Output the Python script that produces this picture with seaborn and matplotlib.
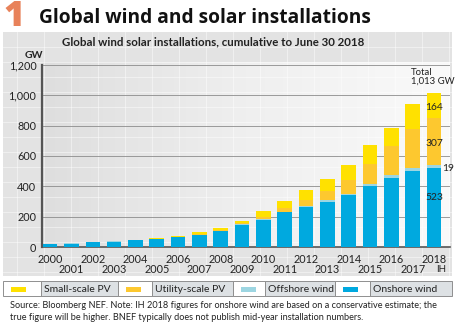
import numpy as np
import pandas as pd
import matplotlib
matplotlib.use("Agg")
import matplotlib.pyplot as plt
import seaborn as sns
from matplotlib.patches import Rectangle
from matplotlib.colors import LinearSegmentedColormap

# ---------------- data ----------------
years = [str(y) for y in range(2000, 2019)]
onshore = [17, 23, 30, 36, 44, 50, 63, 80, 105, 148, 180, 229, 266, 300, 340, 404, 458, 503, 523]
offshore = [0, 0.5, 0.5, 0.5, 0.5, 1, 1, 1, 1.5, 2, 3, 4, 6, 8, 10, 12, 14, 18, 19]
utility = [0, 0, 0, 0, 0, 1, 2, 3, 6, 8, 13, 25, 39, 61, 94, 131, 195, 260, 307]
small = [0, 0, 0, 0, 1, 5, 6, 12, 15, 13, 39, 43, 65, 79, 97, 123, 120, 160, 164]
series_names = ["Small-scale PV", "Utility-scale PV", "Offshore wind", "Onshore wind"]
colors = {"Small-scale PV": "#ffe100", "Utility-scale PV": "#fdc82f",
          "Offshore wind": "#9dd6e2", "Onshore wind": "#00a9df"}
ytick_vals = [0, 200, 400, 600, 800, 1000, 1200]

df = pd.DataFrame({"year": years, "onshore": onshore, "offshore": offshore,
                   "utility": utility, "small": small})
df["c_on"] = df["onshore"]
df["c_off"] = df["c_on"] + df["offshore"]
df["c_util"] = df["c_off"] + df["utility"]
df["c_small"] = df["c_util"] + df["small"]

sns.set_theme(style="white")
plt.rcParams["font.family"] = ["Lato", "DejaVu Sans"]

W, H = 457, 325
fig = plt.figure(figsize=(W / 100, H / 100), dpi=100)
fig.patch.set_facecolor("white")

# background / decoration axes in pixel coordinates
bg = fig.add_axes([0, 0, 1, 1], zorder=0)
bg.axis("off")

bg.add_patch(Rectangle((3, 32), 449, 244, facecolor="#e3e3e3", edgecolor="none"))
grad = np.linspace(0, 1, 256).reshape(1, -1)
cmap = LinearSegmentedColormap.from_list("g", ["#dedede", "#efefef", "#fafafa"])
bg.imshow(grad, extent=(42, 450, 247, 62), cmap=cmap, aspect="auto", zorder=1)
for x in np.arange(17, 452, 27):
    bg.plot([x, x], [32, 276], color="white", lw=0.8, alpha=0.45, zorder=2)
for y in np.arange(47, 276, 15):
    bg.plot([3, 452], [y, y], color="white", lw=0.8, alpha=0.45, zorder=2)
bg.set_xlim(0, W)
bg.set_ylim(H, 0)

# titles
bg.text(3, 26, "1", color="#e8825a", fontsize=26, fontweight="heavy",
        family=["Open Sans", "DejaVu Sans"], va="baseline", ha="left")
bg.text(39, 23, "Global wind and solar installations", color="#111111", fontsize=13.75,
        fontweight="bold", family=["Open Sans", "DejaVu Sans"], va="baseline", ha="left")
bg.text(62, 45, "Global wind solar installations, cumulative to June 30 2018",
        fontsize=8.3, fontweight="bold", color="#222222", va="baseline", ha="left")
bg.text(25, 58, "GW", fontsize=7.5, fontweight="bold", color="#222222", va="baseline", ha="left")

# ---------------- main chart ----------------
ax = fig.add_axes([42 / W, 1 - 247 / H, 408 / W, 182 / H], zorder=3)
ax.set_facecolor("none")

layers = [("c_small", "Small-scale PV"), ("c_util", "Utility-scale PV"),
          ("c_off", "Offshore wind"), ("c_on", "Onshore wind")]
for col, name in layers:
    sns.barplot(data=df, x="year", y=col, color=colors[name], saturation=1,
                width=0.68, ax=ax, zorder=3, linewidth=0, edgecolor="none")

ax.set_ylim(0, 1200)
ax.set_xlim(-0.38, 18.75)
ax.set_yticks(ytick_vals)
ax.set_yticklabels([f"{v:,}" for v in ytick_vals], fontsize=7.8, color="#222222")
ax.set_xticks(range(len(years)))
ax.set_xticklabels([y if i % 2 == 0 else "" for i, y in enumerate(years)],
                   fontsize=7.8, color="#222222")
xt = ax.get_xaxis_transform()
for i, y in enumerate(years):
    if i % 2 == 1:
        ax.text(i, -0.125, y, transform=xt, ha="center", va="center",
                fontsize=7.8, color="#222222")
ax.text(18.35, -0.125, "IH", transform=xt, ha="center", va="center",
        fontsize=7.0, color="#222222")
ax.tick_params(axis="both", length=0)
ax.tick_params(axis="x", pad=5)
ax.tick_params(axis="y", pad=4)
ax.set_xlabel("")
ax.set_ylabel("")
ax.yaxis.grid(True, color="#8c8c8c", lw=0.6, zorder=0)
ax.set_axisbelow(True)
for s in ["top", "right"]:
    ax.spines[s].set_visible(False)
ax.spines["left"].set_color("#555555")
ax.spines["left"].set_linewidth(1.6)
ax.spines["bottom"].set_color("#555555")
ax.spines["bottom"].set_linewidth(1.2)

# value labels on the last bar
last = len(years) - 1
ax.text(last, df["c_util"].iloc[-1] + small[-1] / 2 - 8, f"{small[-1]}", ha="center", va="center",
        fontsize=7.4, color="#222222", zorder=5)
ax.text(last, df["c_off"].iloc[-1] + utility[-1] / 2 - 15, f"{utility[-1]}", ha="center", va="center",
        fontsize=7.4, color="#222222", zorder=5)
ax.text(last + 0.36, df["c_on"].iloc[-1] + offshore[-1] / 2 - 12, f"{offshore[-1]}", ha="left",
        va="center", fontsize=7.4, color="#222222", zorder=5)
ax.text(last, onshore[-1] * 0.63, f"{onshore[-1]}", ha="center", va="center",
        fontsize=7.4, color="#222222", zorder=5)
total = df["c_small"].iloc[-1]
ax.text(16.92, 1125, f"Total\n{total:,.0f} GW", ha="left", va="center", fontsize=6.9,
        color="#222222", linespacing=0.95, zorder=5)

# ---------------- legend table ----------------
cells = [(3, 41, 118), (118, 152, 233), (233, 265, 335), (335, 370, 452)]
for (x0, x1, x2), name in zip(cells, series_names):
    bg.add_patch(Rectangle((x0, 281), x1 - x0, 15, facecolor="white", edgecolor="#8f8f8f", lw=0.7, zorder=3))
    bg.add_patch(Rectangle((x1, 281), x2 - x1, 15, facecolor="#dde1e4", edgecolor="#8f8f8f", lw=0.7, zorder=3))
    bg.add_patch(Rectangle((x0 + 8, 286.5), 15, 5.5, facecolor=colors[name], edgecolor="none", zorder=4))
    bg.text(x1 + 3, 289, name, fontsize=7.5, va="center", ha="left", color="#222222", zorder=5)

# source
bg.text(10, 306, "Source: Bloomberg NEF. Note: IH 2018 figures for onshore wind are based on a conservative estimate; the",
        fontsize=6.6, va="center", ha="left", color="#222222")
bg.text(10, 317, "true figure will be higher. BNEF typically does not publish mid-year installation numbers.",
        fontsize=6.6, va="center", ha="left", color="#222222")

fig.savefig("out.png", dpi=100)
